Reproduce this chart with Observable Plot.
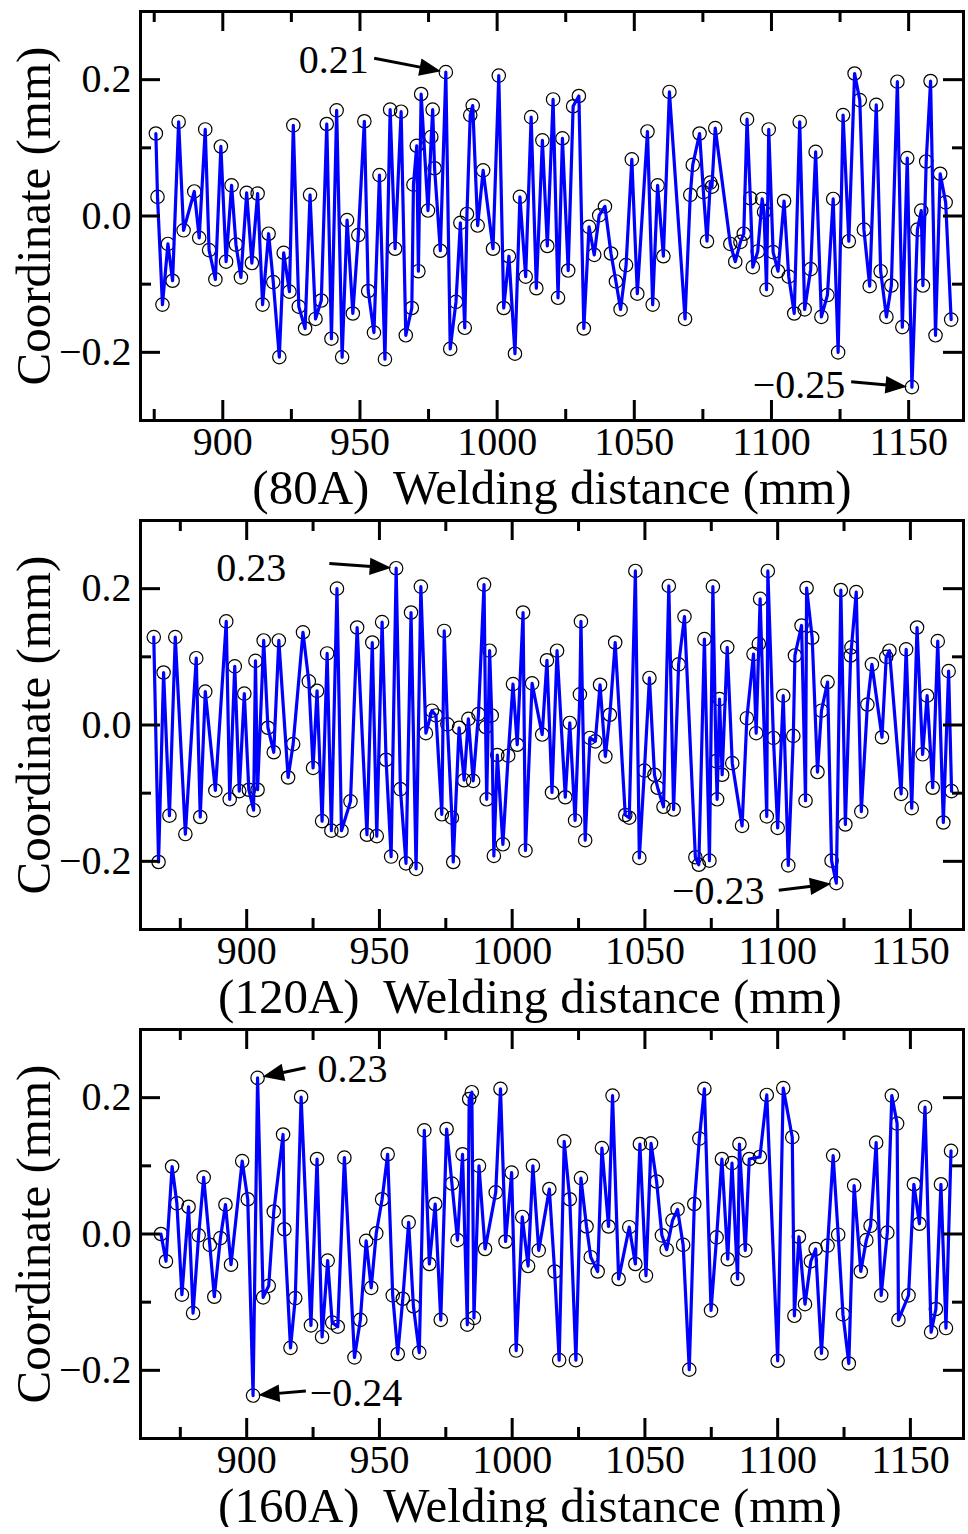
<!DOCTYPE html>
<html><head><meta charset="utf-8">
<script src="https://cdn.jsdelivr.net/npm/d3@7"></script>
<script src="https://cdn.jsdelivr.net/npm/@observablehq/plot@0.6"></script>
<style>body{margin:0;background:#fff;} #chart svg{display:block;}</style>
</head><body><div id="chart"></div>
<script>
// ---------- data ----------
const dist80 = [875.6,876.2,878.0,880.0,881.7,883.9,885.7,889.6,891.4,893.6,895.0,897.3,899.3,901.2,903.2,904.8,906.6,908.7,910.6,912.7,914.5,916.7,918.4,920.6,922.2,924.3,925.7,927.7,930.0,931.8,933.8,935.9,937.9,939.6,941.5,943.5,945.3,947.4,
949.4,951.6,953.0,955.1,957.1,959.1,961.0,962.8,965.0,966.7,968.9,969.5,970.7,971.3,972.3,974.8,976.0,976.5,977.2,979.3,981.3,982.9,985.0,986.6,988.2,989.0,990.2,991.1,992.9,994.9,998.5,1000.6,1002.4,1004.3,1006.5,1008.3,1010.4,1012.4,1014.3,1016.5,1018.3,1020.4,1022.2,
1023.8,1025.9,1027.7,1029.8,1031.6,1033.5,1035.4,1037.2,1039.3,1041.5,1043.3,1045.0,1047.0,1049.1,1051.1,1054.8,1056.7,1058.5,1060.6,1062.8,1068.5,1070.4,1071.3,1073.8,1075.2,1076.5,1077.7,1078.3,1079.5,1085.0,1086.8,1088.7,1089.9,1091.1,1092.3,1093.2,1095.0,1096.6,1097.3,
1098.2,1099.0,1100.6,1102.4,1104.6,1106.3,1108.3,1110.3,1112.1,1114.3,1116.1,1118.2,1120.4,1122.5,1124.3,1126.1,1128.2,1130.3,1132.2,1133.7,1135.8,1138.2,1139.8,1141.9,1143.7,1145.9,1147.7,1149.5,1151.2,1153.2,1154.6,1155.2,1156.4,1158.0,1159.8,1161.5,1163.5,1165.5];
const coord80 = [0.121,0.028,-0.130,-0.041,-0.095,0.138,-0.021,0.036,-0.032,0.127,-0.050,-0.093,0.102,-0.067,0.045,-0.042,-0.090,0.034,-0.069,0.033,-0.130,-0.026,-0.097,-0.207,-0.054,-0.111,0.133,-0.133,-0.165,0.031,-0.151,-0.124,0.135,-0.180,0.155,-0.207,-0.006,-0.143,
-0.028,0.139,-0.110,-0.171,0.060,-0.210,0.156,-0.048,0.153,-0.175,-0.135,0.046,0.103,-0.081,0.179,0.008,0.116,0.156,0.070,-0.051,0.211,-0.195,-0.126,-0.010,-0.164,0.003,0.148,0.162,-0.014,0.067,-0.048,0.206,-0.135,-0.059,-0.202,0.028,-0.089,0.145,-0.106,0.111,-0.044,0.171,-0.120,
0.114,-0.080,0.161,0.176,-0.165,-0.016,-0.057,0.001,0.014,-0.055,-0.096,-0.137,-0.072,0.083,-0.114,0.124,-0.130,0.045,-0.059,0.182,-0.151,0.031,0.075,0.121,0.035,-0.037,0.049,0.043,0.129,-0.041,-0.067,-0.038,-0.026,0.142,0.026,-0.075,-0.052,0.025,0.006,
-0.108,0.127,-0.053,-0.081,0.022,-0.089,-0.143,0.138,-0.137,-0.078,0.094,-0.148,-0.116,0.025,-0.200,0.148,-0.037,0.209,0.170,-0.020,-0.103,0.163,-0.081,-0.148,-0.102,0.197,-0.163,0.085,-0.251,-0.020,0.008,-0.102,0.080,0.198,-0.175,0.062,0.020,-0.152];

const dist120 = [865.0,866.8,868.7,870.9,873.1,876.9,881.0,882.5,884.4,888.2,892.3,893.6,895.5,897.2,899.1,900.8,902.6,903.3,904.1,906.4,908.0,910.2,912.1,915.6,917.5,921.2,923.4,925.0,926.5,928.4,930.3,931.9,934.0,935.7,939.1,
941.6,945.3,947.3,949.0,951.0,952.5,954.4,956.3,957.9,960.0,961.9,963.8,965.6,967.5,969.8,971.3,973.5,974.4,975.6,977.3,977.8,980.0,981.9,983.5,985.3,987.3,989.4,990.0,990.4,991.5,992.3,993.1,994.4,996.5,998.5,1000.3,1001.9,1004.1,1005.0,1007.5,1011.3,1013.1,1015.0,1016.9,
1020.0,1021.7,1023.7,1025.5,1025.9,1027.5,1029.3,1031.3,1033.1,1035.1,1036.8,1038.8,1042.6,1044.1,1046.4,1047.9,1049.8,1051.7,1053.6,1054.8,1057.0,1059.0,1060.8,1062.7,1064.9,1069.0,1070.3,1072.4,1074.3,1075.6,1076.8,1077.2,1078.1,1079.1,1081.0,1082.9,1086.6,1088.4,1090.9,1091.9,1092.9,1093.4,
1095.9,1096.3,1098.4,1100.0,1102.1,1104.0,1105.9,1106.5,1109.0,1110.5,1110.9,1113.0,1115.0,1116.5,1118.8,1120.3,1122.1,1123.8,1125.5,1127.5,1127.8,1129.6,1131.5,1133.8,1135.5,1139.3,1140.9,1142.1,1146.5,1148.4,1150.5,1152.5,1154.6,1156.3,1158.4,1160.3,1162.4,1164.4,1165.5];
const coord120 = [0.129,-0.201,0.077,-0.133,0.129,-0.160,0.098,-0.135,0.049,-0.096,0.152,-0.109,0.086,-0.097,0.046,-0.095,-0.125,0.094,-0.095,0.124,-0.004,-0.040,0.124,-0.077,-0.028,0.136,0.064,-0.063,0.050,-0.141,0.105,-0.155,0.200,-0.155,-0.112,
0.143,-0.161,0.121,-0.163,0.151,-0.051,-0.193,0.230,-0.094,-0.203,0.165,-0.211,0.203,-0.012,0.021,0.014,-0.131,0.138,0.001,-0.136,-0.201,-0.004,-0.081,0.009,-0.082,0.016,0.206,-0.003,-0.109,0.109,0.014,-0.192,-0.044,-0.175,-0.045,0.060,-0.029,0.165,-0.184,0.061,-0.014,0.095,-0.099,0.109,
-0.106,0.003,-0.140,0.045,0.152,-0.169,-0.019,-0.024,0.059,-0.046,0.015,0.121,-0.132,-0.136,0.226,-0.195,-0.067,0.069,-0.073,-0.092,-0.120,0.204,-0.124,0.089,0.159,-0.194,-0.205,0.126,-0.199,0.203,-0.053,-0.109,0.038,-0.073,0.114,-0.056,-0.148,0.010,0.104,-0.012,0.119,0.185,
-0.134,0.226,-0.019,-0.151,0.043,-0.206,-0.016,0.102,0.146,-0.111,0.201,0.128,-0.069,0.021,0.063,-0.199,-0.232,0.198,-0.146,0.102,0.114,0.195,-0.127,0.030,0.089,-0.018,0.100,0.109,-0.101,0.111,-0.122,0.143,-0.043,0.043,-0.092,0.123,-0.143,0.079,-0.097];

const dist160 = [867.7,869.6,871.9,873.7,875.6,878.1,879.8,881.9,883.8,886.1,887.8,890.1,892.0,894.1,898.3,900.4,902.4,904.1,906.2,908.3,910.2,913.7,914.2,916.5,918.3,920.5,924.2,926.5,928.4,930.5,932.2,934.3,936.8,
940.6,942.8,945.0,946.9,948.8,951.0,953.1,955.0,956.9,958.8,961.0,962.8,965.0,966.9,968.8,971.0,973.1,975.3,977.3,979.4,981.3,983.1,983.8,984.8,985.6,987.5,989.8,993.8,995.6,997.5,999.8,1001.5,1003.8,1006.0,1007.8,1010.0,1014.0,1016.0,
1017.7,1019.6,1021.7,1024.0,1025.9,1028.0,1029.6,1032.2,1033.8,1036.3,1037.8,1040.1,1044.1,1046.4,1048.1,1050.4,1052.3,1054.4,1056.4,1058.2,1060.4,1062.3,1064.4,1066.7,1068.6,1070.5,1072.4,1074.9,1077.0,1079.0,1081.2,1082.8,1084.9,1085.6,1087.8,1089.3,1093.3,
1095.9,1100.0,1102.1,1105.5,1106.3,1108.0,1110.3,1112.5,1114.3,1116.5,1118.8,1120.9,1122.8,1124.6,1126.8,1128.8,1131.3,1133.4,1135.0,1137.1,1139.0,1141.3,1143.0,1145.0,1145.5,1149.3,1151.3,1153.4,1155.5,1157.8,1159.6,1161.5,1163.4,1165.3];
const coord160 = [0.000,-0.040,0.099,0.045,-0.089,0.040,-0.116,-0.002,0.083,-0.016,-0.092,-0.006,0.043,-0.045,0.107,0.051,-0.237,0.229,-0.093,-0.076,0.033,0.146,0.007,-0.167,-0.094,0.201,-0.134,0.110,-0.151,-0.039,-0.130,-0.136,0.112,
-0.181,-0.126,-0.010,-0.079,0.001,0.051,0.117,-0.090,-0.176,-0.095,0.017,-0.106,-0.174,0.152,-0.044,0.044,-0.126,0.154,0.074,-0.009,0.117,-0.133,0.198,0.208,-0.123,0.100,-0.022,0.061,0.213,-0.011,0.090,-0.171,0.025,-0.047,0.100,-0.024,0.066,-0.055,
-0.185,0.136,0.051,-0.185,0.082,0.011,-0.034,-0.055,0.126,0.011,0.203,-0.066,0.010,-0.044,0.132,-0.061,0.133,0.077,-0.002,-0.023,0.020,0.036,-0.016,-0.199,0.044,0.140,0.213,-0.112,-0.005,0.110,-0.037,0.104,-0.066,0.132,-0.024,0.110,0.113,
0.204,-0.186,0.214,0.142,-0.120,-0.004,-0.103,-0.040,-0.022,-0.175,-0.017,0.115,-0.001,-0.118,-0.190,0.071,-0.055,-0.009,0.012,0.134,-0.090,0.002,0.203,0.162,-0.126,-0.090,0.073,0.015,0.186,-0.144,-0.110,0.073,-0.138,0.122];

const xTicksMajor = [900, 950, 1000, 1050, 1100, 1150];
const xTicksMinor = [875, 925, 975, 1025, 1075, 1125];
const yTicksMajor = [-0.2, 0, 0.2];
const yTicksMinor = [-0.1, 0.1];
const yLabel = "Coordinate (mm)";
const xLabels = ["(80A)\u00a0 Welding distance (mm)", "(120A)\u00a0 Welding distance (mm)", "(160A)\u00a0 Welding distance (mm)"];
const annX80 = [981.3, 1151.2], annLabel80 = ["0.21", "\u22120.25"];
const annX120 = [956.3, 1122.1], annLabel120 = ["0.23", "\u22120.23"];
const annX160 = [904.1, 902.4], annLabel160 = ["0.23", "\u22120.24"];

// ---------- drawing ----------
const W = 968, H = 509, mT = 11, mB = 89, mL = 140, mR = 5;
const plotH = H - mT - mB, plotW = W - mL - mR;
const FONT = "'Liberation Serif', 'Times New Roman', serif";

const arrowShape = {
  draw(ctx, l) {
    const g = 9, h = 16, w = 6.5;
    ctx.moveTo(0, 0);
    ctx.lineTo(0, -l + g + h);
    ctx.moveTo(0, -l + g);
    ctx.lineTo(w, -l + g + h);
    ctx.lineTo(-w, -l + g + h);
    ctx.closePath();
  }
};

function panel(dist, coord, xDomain, xLabel, labelShift, annX, annLabel, annStyle) {
  const data = dist.map((d, i) => ({x: d, y: coord[i]}));
  const ann = annX.map((ax, i) => {
    const p = data.find(d => d.x === ax);
    return {x: p.x, y: p.y, label: annLabel[i], ...annStyle[i]};
  });
  const tick = {stroke: "black", strokeWidth: 3};
  const annMarks = ann.flatMap(a => [
    Plot.vector([a], {x: "x", y: "y", length: a.len, rotate: a.rot, anchor: "end", shape: arrowShape,
      fill: "black", stroke: "black", strokeWidth: 3, strokeLinecap: "butt", strokeLinejoin: "miter"}),
    Plot.text([a], {x: "x", y: "y", text: "label", dx: a.tdx, dy: a.tdy, fontSize: 40, lineAnchor: "middle", textAnchor: "middle"})
  ]);
  return Plot.plot({
    width: W, height: H,
    marginTop: mT, marginBottom: mB, marginLeft: mL, marginRight: mR,
    style: {fontFamily: FONT, fontSize: "40px", background: "white", color: "black", overflow: "visible"},
    x: {domain: xDomain},
    y: {domain: [-0.3, 0.3]},
    marks: [
      Plot.dot(data, {x: "x", y: "y", r: 6.7, stroke: "black", strokeWidth: 1.2, fill: "none"}),
      Plot.line(data, {x: "x", y: "y", stroke: "#0000ff", strokeWidth: 3.2, curve: "linear"}),
      Plot.tickX(xTicksMajor, {x: d => d, insetTop: plotH - 20, ...tick}),
      Plot.tickX(xTicksMajor, {x: d => d, insetBottom: plotH - 20, ...tick}),
      Plot.tickX(xTicksMinor, {x: d => d, insetTop: plotH - 11, ...tick}),
      Plot.tickX(xTicksMinor, {x: d => d, insetBottom: plotH - 11, ...tick}),
      Plot.tickY(yTicksMajor, {y: d => d, insetRight: plotW - 20, ...tick}),
      Plot.tickY(yTicksMajor, {y: d => d, insetLeft: plotW - 20, ...tick}),
      Plot.tickY(yTicksMinor, {y: d => d, insetRight: plotW - 11, ...tick}),
      Plot.tickY(yTicksMinor, {y: d => d, insetLeft: plotW - 11, ...tick}),
      Plot.frame({stroke: "black", strokeWidth: 3}),
      Plot.axisX({ticks: xTicksMajor, tickSize: 0, tickPadding: 6, tickFormat: d => String(d), label: null, fontSize: 40}),
      Plot.axisY({ticks: yTicksMajor, tickSize: 0, tickPadding: 9, tickFormat: d3.format(".1f"), label: null, fontSize: 40}),
      Plot.text([xLabel], {text: d => d, frameAnchor: "bottom", dx: labelShift, dy: 68, fontSize: 49, lineAnchor: "middle", textAnchor: "middle"}),
      Plot.text([yLabel], {text: d => d, frameAnchor: "left", dx: -106, rotate: -90, fontSize: 49, lineAnchor: "middle", textAnchor: "middle"}),
      ...annMarks
    ]
  });
}

const chart = document.getElementById("chart");
chart.appendChild(panel(dist80, coord80, [870, 1170], xLabels[0], 0, annX80, annLabel80,
  [{tdx: -112, tdy: -12, rot: 101, len: 73}, {tdx: -113, tdy: -2, rot: 95, len: 61}]));
chart.appendChild(panel(dist120, coord120, [860, 1170], xLabels[1], -22, annX120, annLabel120,
  [{tdx: -145, tdy: 0, rot: 94, len: 67}, {tdx: -118, tdy: 8, rot: 83, len: 58}]));
chart.appendChild(panel(dist160, coord160, [860, 1170], xLabels[2], -22, annX160, annLabel160,
  [{tdx: 95, tdy: -9, rot: -102, len: 49}, {tdx: 103, tdy: -2, rot: -95, len: 53}]));
</script></body></html>
